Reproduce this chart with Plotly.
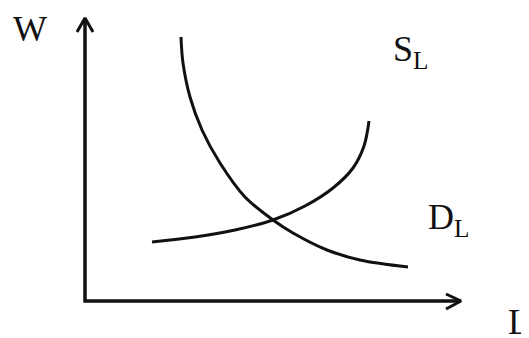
import plotly.graph_objects as go

# coordinates in "diagram units": origin at the corner of the axes
demand_l = [96, 98, 105, 117, 135, 160, 188, 208, 242, 275, 323]
demand_w = [264, 238, 204, 171, 138, 104, 81, 68, 51, 41, 34]

supply_l = [67, 110, 150, 188, 220, 248, 268, 279, 284]
supply_w = [59, 64, 71, 81, 95, 113, 133, 155, 180]

axis_l = [0, 0, 376]
axis_w = [283, 0, 0]

w_head_l = [-8, 0, 8]
w_head_w = [269, 283, 269]
l_head_l = [361, 376, 361]
l_head_w = [7, 0, -8]

FONT = "Times New Roman"
INK = "#111111"

fig = go.Figure()
fig.add_scatter(x=axis_l, y=axis_w, mode="lines", line=dict(color=INK, width=3.5))
fig.add_scatter(x=w_head_l, y=w_head_w, mode="lines", line=dict(color=INK, width=3))
fig.add_scatter(x=l_head_l, y=l_head_w, mode="lines", line=dict(color=INK, width=3))
fig.add_scatter(x=demand_l, y=demand_w, mode="lines",
                line=dict(color=INK, width=3, shape="spline"))
fig.add_scatter(x=supply_l, y=supply_w, mode="lines",
                line=dict(color=INK, width=3, shape="spline"))

# (text, l, w, shift up in px)
labels = [
    ("W", -74, 284, 10),
    ("S<sub>L</sub>", 306, 274, 0),
    ("D<sub>L</sub>", 341, 106, 0),
    ("L", 421, 1, 0),
]
for text, x, y, up in labels:
    fig.add_annotation(x=x, y=y, text=text, showarrow=False, xanchor="left", yanchor="top",
                       yshift=up, font=dict(family=FONT, size=36, color=INK))

# the page body adds an 8px margin, so the ranges are shifted to compensate
fig.update_xaxes(range=[-77, 452], visible=False)
fig.update_yaxes(range=[-45, 293], visible=False)
fig.update_layout(width=529, height=338, margin=dict(l=0, r=0, t=0, b=0),
                  showlegend=False, plot_bgcolor="white", paper_bgcolor="white",
                  font=dict(family=FONT))

fig.write_html("out.html")
